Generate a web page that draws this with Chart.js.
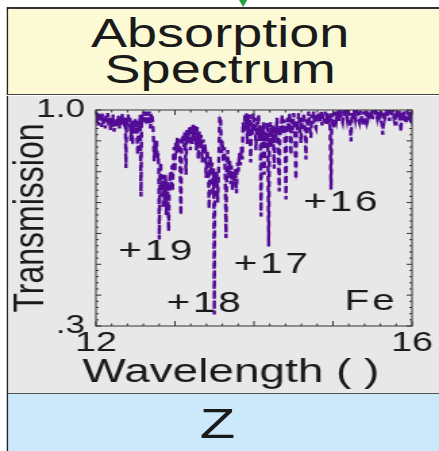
<!DOCTYPE html>
<html>
<head>
<meta charset="utf-8">
<script src="https://cdn.jsdelivr.net/npm/chart.js@4/dist/chart.umd.min.js"></script>
<style>
  html, body { margin: 0; padding: 0; background: #fff; overflow: hidden; }
  #page {
    position: absolute; left: 0; top: 0; width: 325px; height: 451px;
    transform: scaleX(1.3508); transform-origin: 0 0;
    font-family: "Liberation Sans", Arial, sans-serif; color: #1a1a1a;
  }
  #arrow {
    position: absolute; left: 177px; top: 0; width: 0; height: 0;
    border-left: 3px solid transparent; border-right: 3px solid transparent;
    border-top: 7px solid #23a33e;
  }
  #head {
    position: absolute; left: 4.5px; top: 7px; width: 330px; height: 85px;
    background: #fcfad4; border-top: 2px solid #333; border-left: 1.5px solid #222;
    border-bottom: 1.5px solid #444;
  }
  #headText {
    position: absolute; left: 0; top: 0; width: 315px; padding-top: 6px;
    font-size: 40px; line-height: 36px; text-align: center;
  }
  #plotPanel {
    position: absolute; left: 4.5px; top: 95.5px; width: 330px; height: 297px;
    background: #e8e8e8; border-left: 1.5px solid #222; border-bottom: 1.5px solid #555;
  }
  #zPanel {
    position: absolute; left: 4.5px; top: 394px; width: 330px; height: 57px;
    background: #cce9fb; border-left: 1.5px solid #222;
  }
  #zText {
    position: absolute; left: 0; top: 7.5px; width: 311px;
    font-size: 43px; line-height: 43px; text-align: center;
  }
  #chart { position: absolute; left: 0; top: 0; }
</style>
</head>
<body>
<div id="page">
  <div id="arrow"></div>
  <div id="head"><div id="headText">Absorption<br>Spectrum</div></div>
  <div id="plotPanel"></div>
  <div id="zPanel"><div id="zText">Z</div></div>
  <canvas id="chart" width="325" height="451"></canvas>
</div>
<script>
// Fe absorption spectrum: wavelength (Å) and transmission
const wavelength = [
  12.000, 12.010, 12.020, 12.030, 12.040, 12.050, 12.060, 12.072, 12.082, 12.095,
  12.105, 12.118, 12.128, 12.140, 12.150, 12.162, 12.172, 12.185, 12.195, 12.208,
  12.218, 12.230, 12.240, 12.252, 12.262, 12.275, 12.285, 12.297, 12.308, 12.320,
  12.330, 12.342, 12.352, 12.364, 12.372, 12.380, 12.388, 12.398, 12.408, 12.420,
  12.430, 12.442, 12.452, 12.464, 12.474, 12.486, 12.496, 12.506, 12.516, 12.528,
  12.538, 12.550, 12.560, 12.570, 12.580, 12.592, 12.604, 12.616, 12.628, 12.640,
  12.652, 12.664, 12.675, 12.688, 12.700,
  12.712, 12.724, 12.738, 12.748, 12.758, 12.768, 12.778, 12.788, 12.795, 12.802,
  12.810, 12.820, 12.830, 12.840, 12.850, 12.860, 12.870, 12.880, 12.890, 12.900,
  12.910, 12.920, 12.930, 12.940, 12.950, 12.960, 12.970, 12.980, 12.990, 13.000,
  13.010, 13.020, 13.030, 13.040, 13.050, 13.062, 13.075, 13.085,
  13.100, 13.115, 13.125, 13.140, 13.150, 13.165, 13.180, 13.195, 13.205, 13.220,
  13.232, 13.245, 13.258, 13.270, 13.282, 13.295, 13.308, 13.320, 13.330, 13.345,
  13.358, 13.370, 13.382, 13.395, 13.408, 13.420, 13.432, 13.445, 13.458, 13.470,
  13.480, 13.490, 13.498, 13.506, 13.518, 13.530, 13.540, 13.552, 13.565, 13.578,
  13.588, 13.600, 13.612, 13.625, 13.635, 13.646, 13.656, 13.668, 13.680, 13.692,
  13.705, 13.715, 13.728, 13.740, 13.752, 13.765, 13.778, 13.790, 13.802, 13.815,
  13.828, 13.840, 13.852, 13.862, 13.875, 13.885,
  13.895, 13.905, 13.915, 13.925, 13.935, 13.945, 13.958, 13.968, 13.980, 13.990,
  14.002, 14.012, 14.025, 14.035, 14.047, 14.058, 14.068, 14.078, 14.089, 14.099,
  14.110, 14.120, 14.130, 14.140, 14.152, 14.164, 14.175, 14.186, 14.196, 14.208,
  14.220, 14.232, 14.244, 14.256, 14.266, 14.278, 14.290, 14.302, 14.320, 14.330,
  14.342, 14.354, 14.366, 14.378, 14.392, 14.405, 14.415, 14.428, 14.440, 14.452,
  14.468, 14.478, 14.490, 14.502, 14.515, 14.530, 14.540, 14.552, 14.564, 14.576,
  14.595, 14.605, 14.618, 14.630, 14.645, 14.658, 14.668, 14.680, 14.692, 14.705,
  14.720, 14.730, 14.742, 14.755, 14.768, 14.785, 14.795, 14.808, 14.820, 14.835,
  14.850, 14.862, 14.875, 14.888, 14.900, 14.915, 14.930, 14.945, 14.960, 14.975,
  14.985,
  15.000, 15.017, 15.030, 15.045, 15.060, 15.075, 15.090, 15.105, 15.122, 15.135,
  15.150, 15.165, 15.180, 15.195, 15.210, 15.228, 15.240, 15.255, 15.270, 15.285,
  15.300, 15.315, 15.333, 15.345, 15.360, 15.376, 15.390, 15.405, 15.418, 15.430,
  15.445, 15.460, 15.475, 15.490, 15.502, 15.515, 15.530, 15.545, 15.560, 15.575,
  15.590, 15.605, 15.629, 15.640, 15.655, 15.670, 15.685, 15.700, 15.713, 15.725,
  15.740, 15.755, 15.770, 15.785, 15.797, 15.810, 15.825, 15.840, 15.860, 15.872,
  15.885, 15.898, 15.910, 15.924, 15.938, 15.952, 15.966, 15.980, 15.992, 16.000
];
const transmission = [
  0.995, 0.960, 0.990, 0.950, 0.985, 0.965, 0.992, 0.945, 0.988, 0.955,
  0.975, 0.940, 0.982, 0.960, 0.990, 0.950, 0.975, 0.935, 0.970, 0.945,
  0.985, 0.930, 0.965, 0.945, 0.975, 0.950, 0.985, 0.940, 0.970, 0.950,
  0.990, 0.955, 0.975, 0.945, 0.975, 0.812, 0.970, 0.950, 0.985, 0.945,
  0.975, 0.900, 0.965, 0.888, 0.955, 0.935, 0.975, 0.925, 0.960, 0.855,
  0.965, 0.945, 0.985, 0.720, 0.985, 0.960, 0.995, 0.975, 0.995, 0.950,
  0.995, 0.975, 0.995, 0.940, 0.990,
  0.985, 0.940, 0.834, 0.900, 0.860, 0.900, 0.840, 0.860, 0.800, 0.580,
  0.790, 0.830, 0.720, 0.790, 0.680, 0.770, 0.700, 0.790, 0.660, 0.770,
  0.720, 0.607, 0.760, 0.800, 0.740, 0.820, 0.736, 0.850, 0.880, 0.800,
  0.900, 0.860, 0.910, 0.880, 0.905, 0.860, 0.660, 0.900,
  0.920, 0.880, 0.930, 0.790, 0.935, 0.900, 0.945, 0.870, 0.950, 0.890,
  0.952, 0.900, 0.950, 0.870, 0.945, 0.840, 0.930, 0.880, 0.920, 0.830,
  0.905, 0.860, 0.890, 0.780, 0.870, 0.830, 0.680, 0.850, 0.800, 0.830,
  0.720, 0.810, 0.337, 0.800, 0.760, 0.800, 0.700, 0.790, 0.980, 0.970,
  0.860, 0.900, 0.830, 0.880, 0.800, 0.585, 0.820, 0.870, 0.780, 0.840,
  0.760, 0.820, 0.740, 0.800, 0.770, 0.810, 0.730, 0.830, 0.800, 0.860,
  0.820, 0.880, 0.840, 0.960, 0.930, 0.985,
  0.950, 0.990, 0.890, 0.970, 0.930, 0.985, 0.830, 0.960, 0.920, 0.990,
  0.940, 0.975, 0.870, 0.960, 0.930, 0.985, 0.900, 0.950, 0.655, 0.940,
  0.900, 0.960, 0.790, 0.930, 0.880, 0.960, 0.900, 0.558, 0.930, 0.960,
  0.880, 0.950, 0.900, 0.810, 0.950, 0.910, 0.975, 0.930, 0.736, 0.950,
  0.920, 0.985, 0.940, 0.970, 0.900, 0.710, 0.950, 0.975, 0.930, 0.990,
  0.855, 0.970, 0.935, 0.990, 0.950, 0.775, 0.965, 0.930, 0.990, 0.950,
  0.893, 0.975, 0.940, 0.990, 0.930, 0.840, 0.970, 0.950, 0.995, 0.940,
  0.910, 0.985, 0.955, 0.995, 0.950, 0.940, 0.990, 0.960, 0.995, 0.960,
  0.995, 0.950, 0.985, 0.960, 0.995, 0.955, 0.990, 0.970, 0.990, 0.742,
  0.990,
  0.965, 0.940, 0.995, 0.970, 0.998, 0.965, 0.995, 0.975, 0.960, 0.995,
  0.975, 0.998, 0.970, 0.995, 0.975, 0.898, 0.990, 0.970, 0.998, 0.970,
  0.995, 0.975, 0.960, 0.998, 0.975, 0.950, 0.995, 0.970, 0.960, 0.998,
  0.975, 0.995, 0.970, 0.998, 0.970, 0.998, 0.980, 0.998, 0.975, 0.998,
  0.980, 0.998, 0.920, 0.995, 0.975, 0.998, 0.975, 0.995, 0.965, 0.998,
  0.980, 0.998, 0.975, 0.995, 0.950, 0.990, 0.975, 0.998, 0.930, 0.995,
  0.965, 0.995, 0.975, 0.955, 0.998, 0.975, 0.970, 0.998, 0.980, 0.995
];

// Axis ticks that carry labels
const xTickValues = [12, 16];
const xTickLabels = ['12', '16'];
const yTickValues = [0.3, 1.0];
const yTickLabels = ['.3', '1.0'];

// Ionisation-stage labels placed in data units
const ionLabels = ['+16', '+19', '+17', '+18', 'Fe'];
const ionLabelAt = [[15.11, 0.699], [12.77, 0.54], [14.23, 0.50], [13.38, 0.371], [15.48, 0.378]];

const FONT = '"Liberation Sans", Arial, sans-serif';
const INK = '#1a1a1a';

const points = wavelength.map((w, i) => ({ x: w, y: transmission[i] }));

// Frame with inward ticks, the x-axis title and the ion labels
const decorations = {
  id: 'decorations',
  afterDatasetsDraw(chart) {
    const { ctx, chartArea: a, scales: { x, y } } = chart;
    ctx.save();
    ctx.strokeStyle = '#333';
    ctx.lineWidth = 1;
    ctx.strokeRect(a.left, a.top, a.right - a.left, a.bottom - a.top);
    ctx.beginPath();
    for (let i = 0; i <= 20; i++) {
      const px = x.getPixelForValue(12 + i * 0.2);
      const len = i % 5 === 0 ? 5 : 2.5;
      ctx.moveTo(px, a.bottom); ctx.lineTo(px, a.bottom - len);
      ctx.moveTo(px, a.top); ctx.lineTo(px, a.top + len);
    }
    for (let i = 0; i <= 35; i++) {
      const py = y.getPixelForValue(0.3 + i * 0.02);
      const len = i % 5 === 0 ? 4 : 2;
      ctx.moveTo(a.left, py); ctx.lineTo(a.left + len, py);
      ctx.moveTo(a.right, py); ctx.lineTo(a.right - len, py);
    }
    ctx.stroke();

    ctx.fillStyle = INK;
    ctx.font = '30px ' + FONT;
    ctx.textAlign = 'center';
    ctx.textBaseline = 'middle';
    if ('letterSpacing' in ctx) ctx.letterSpacing = '2px';
    ionLabels.forEach((t, i) => {
      ctx.fillText(t, x.getPixelForValue(ionLabelAt[i][0]), y.getPixelForValue(ionLabelAt[i][1]));
    });
    if ('letterSpacing' in ctx) ctx.letterSpacing = '0px';

    ctx.font = '34px ' + FONT;
    ctx.textBaseline = 'alphabetic';
    ctx.fillText('Wavelength ( )', (a.left + a.right) / 2 - 17, a.bottom + 56);
    ctx.restore();
  }
};

new Chart(document.getElementById('chart'), {
  type: 'line',
  data: {
    datasets: [
      { data: points, borderColor: '#520b94', borderWidth: 2.4, borderDash: [6, 4],
        pointRadius: 0, tension: 0 },
      { data: points, borderColor: '#cdbce4', borderWidth: 1.2,
        pointRadius: 0, tension: 0 }
    ]
  },
  options: {
    responsive: false,
    animation: false,
    devicePixelRatio: 1,
    layout: { padding: { left: 0, right: 20, top: 110, bottom: 95 } },
    plugins: { legend: { display: false }, tooltip: { enabled: false } },
    scales: {
      x: {
        type: 'linear', min: 12, max: 16,
        grid: { display: false, drawTicks: false }, border: { display: false },
        afterBuildTicks: s => { s.ticks = xTickValues.map(v => ({ value: v })); },
        afterFit: s => { s.height = 30; },
        ticks: {
          padding: 0, color: INK, font: { family: FONT, size: 28 },
          callback: v => xTickLabels[xTickValues.indexOf(v)]
        }
      },
      y: {
        type: 'linear', min: 0.3, max: 1.0,
        grid: { display: false, drawTicks: false }, border: { display: false },
        afterBuildTicks: s => { s.ticks = yTickValues.map(v => ({ value: v })); },
        afterFit: s => { s.width = 71; },
        ticks: {
          padding: 8, color: INK, font: { family: FONT, size: 26 },
          callback: v => yTickLabels[yTickValues.indexOf(v)]
        },
        title: {
          display: true, text: 'Transmission', color: INK,
          font: { family: FONT, size: 32 }, padding: { top: 4, bottom: 0 }
        }
      }
    }
  },
  plugins: [decorations]
});
</script>
</body>
</html>
